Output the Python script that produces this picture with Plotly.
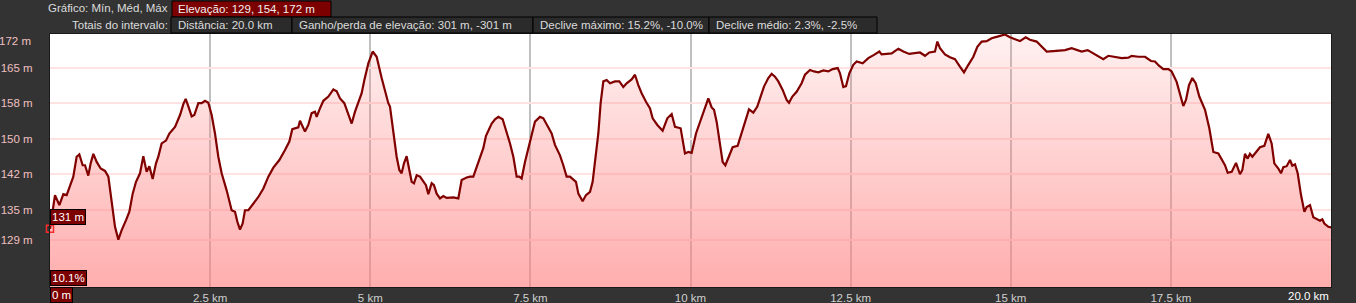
import plotly.graph_objects as go

# ---------------- data ----------------
distance_km = [
    0.000, 0.078, 0.146, 0.208, 0.260, 0.312, 0.364, 0.416, 0.458, 0.510,
    0.546, 0.598, 0.635, 0.677, 0.729, 0.791, 0.859, 0.911, 0.963, 1.015,
    1.067, 1.119, 1.187, 1.239, 1.291, 1.343, 1.405, 1.457, 1.509, 1.551,
    1.603, 1.655, 1.691, 1.743, 1.811, 1.863, 1.952, 2.030, 2.082, 2.118,
    2.160, 2.212, 2.253, 2.316, 2.368, 2.420, 2.472, 2.524, 2.576, 2.628,
    2.680, 2.758, 2.836, 2.888, 2.925, 2.966, 3.008, 3.044, 3.097, 3.175,
    3.253, 3.331, 3.409, 3.487, 3.581, 3.669, 3.737, 3.783, 3.877, 3.903,
    3.981, 4.033, 4.085, 4.137, 4.163, 4.215, 4.268, 4.346, 4.424, 4.476,
    4.528, 4.595, 4.647, 4.710, 4.762, 4.814, 4.866, 4.908, 4.970, 5.038,
    5.100,
    5.178, 5.230, 5.282, 5.308, 5.360, 5.412, 5.454, 5.490, 5.527, 5.568,
    5.610, 5.647, 5.683, 5.725, 5.777, 5.829, 5.870, 5.907, 5.959, 5.995,
    6.037, 6.089, 6.141, 6.193, 6.297, 6.375, 6.427, 6.505, 6.557, 6.609,
    6.661, 6.713, 6.765, 6.807, 6.869, 6.896, 6.948, 7.000, 7.067, 7.130,
    7.182, 7.234, 7.286, 7.328, 7.364, 7.416, 7.468, 7.520, 7.572, 7.650,
    7.702, 7.754, 7.832, 7.884, 7.962, 8.014, 8.066, 8.118, 8.212, 8.249,
    8.316, 8.368, 8.431, 8.472, 8.509, 8.561, 8.597, 8.639, 8.691, 8.743,
    8.821, 8.889, 8.951, 9.003, 9.081, 9.133, 9.185, 9.237, 9.305, 9.368,
    9.409, 9.482, 9.565, 9.638, 9.706, 9.758, 9.846, 9.914, 9.966, 10.018,
    10.086, 10.148,
    10.174, 10.226, 10.278, 10.330, 10.367, 10.408, 10.460, 10.502, 10.544, 10.590,
    10.658, 10.736, 10.799, 10.851, 10.913, 10.981, 11.043, 11.095, 11.147, 11.215,
    11.267, 11.319, 11.371, 11.439, 11.501, 11.538, 11.590, 11.657, 11.735, 11.787,
    11.866, 11.928, 11.996, 12.074, 12.152, 12.219, 12.298, 12.334, 12.386, 12.428,
    12.480, 12.542, 12.594, 12.688, 12.776, 12.865, 12.948, 12.984, 13.063, 13.141,
    13.245, 13.323, 13.416, 13.505, 13.583, 13.661, 13.729, 13.817, 13.854, 13.895,
    13.973, 14.051, 14.129, 14.207, 14.270, 14.338, 14.416, 14.478, 14.546, 14.624,
    14.702, 14.806, 14.910,
    14.988, 15.066, 15.144, 15.233, 15.300, 15.404, 15.482, 15.561, 15.665, 15.743,
    15.847, 15.951, 16.029, 16.107, 16.201, 16.289, 16.367, 16.445, 16.523, 16.627,
    16.732, 16.836, 16.888, 16.992, 17.096, 17.190, 17.252, 17.314, 17.382, 17.460,
    17.512, 17.590, 17.642, 17.694, 17.736, 17.783, 17.835, 17.887, 17.944, 18.033,
    18.100, 18.163, 18.241, 18.293, 18.345, 18.387, 18.449, 18.517, 18.579, 18.616,
    18.657, 18.699, 18.735, 18.772, 18.839, 18.891, 18.959, 19.021, 19.073, 19.115,
    19.178, 19.219, 19.256, 19.308, 19.360, 19.396, 19.438, 19.480, 19.532, 19.584,
    19.620, 19.672, 19.724, 19.776, 19.828, 19.864, 19.896, 19.958, 20.000,
]

elevation_m = [
    131.0, 138.1, 136.0, 138.3, 138.1, 139.9, 142.0, 146.2, 146.7, 144.4,
    144.4, 142.2, 144.8, 146.8, 145.1, 143.7, 143.2, 142.0, 137.0, 131.4,
    128.7, 130.7, 132.8, 134.6, 138.4, 140.9, 142.7, 146.3, 143.0, 144.2,
    141.5, 144.8, 146.2, 149.0, 149.6, 151.1, 152.5, 155.0, 157.3, 158.4,
    156.8, 154.7, 155.0, 157.5, 157.5, 158.0, 157.6, 155.0, 151.1, 146.2,
    142.7, 139.1, 134.9, 134.6, 132.5, 130.8, 132.1, 134.9, 134.9, 136.3,
    137.7, 139.5, 142.0, 143.9, 145.5, 147.6, 149.4, 152.0, 152.4, 153.8,
    151.5, 152.9, 155.4, 155.7, 154.6, 156.4, 158.0, 158.9, 160.4, 160.0,
    158.5, 157.5, 155.4, 153.2, 155.7, 157.5, 159.6, 162.4, 165.9, 168.4,
    167.3,
    162.8, 159.9, 157.5, 156.8, 151.8, 146.2, 143.4, 142.7, 144.8, 146.3,
    143.4, 140.9, 140.6, 142.3, 142.0, 140.9, 140.2, 138.3, 140.6, 140.2,
    138.4, 137.4, 137.9, 137.5, 137.6, 137.4, 141.3, 141.8, 142.0, 142.0,
    144.1, 146.2, 148.0, 150.6, 152.2, 153.2, 154.1, 154.6, 154.1, 151.5,
    149.0, 146.2, 142.0, 142.0, 141.6, 145.1, 148.3, 150.8, 153.6, 154.6,
    154.3, 152.9, 151.1, 148.7, 146.5, 144.4, 142.0, 142.0, 140.9, 138.4,
    136.8, 138.1, 138.8, 140.9, 144.8, 151.1, 157.5, 162.1, 162.4, 161.7,
    162.1, 162.1, 160.9, 161.7, 162.5, 163.5, 161.3, 159.6, 157.8, 156.4,
    154.3, 152.9, 151.7, 154.3, 155.2, 152.5, 152.2, 146.9, 147.2, 147.0,
    151.1, 153.6,
    154.6, 156.4, 158.5, 156.6, 156.1, 153.6, 148.3, 145.1, 144.4, 145.8,
    148.2, 148.5, 151.1, 153.6, 156.2, 155.5, 156.8, 158.9, 161.0, 162.8,
    163.7, 163.1, 162.1, 160.3, 158.2, 157.6, 158.9, 159.9, 161.7, 163.5,
    164.5, 164.2, 164.0, 164.4, 164.2, 164.7, 164.9, 163.8, 160.9, 161.1,
    163.8, 165.6, 166.3, 165.9, 167.0, 167.7, 168.4, 167.8, 167.9, 168.0,
    169.0, 168.4, 167.9, 168.0, 168.2, 167.5, 168.2, 168.4, 170.5, 169.1,
    167.8, 167.2, 166.8, 165.2, 164.0, 165.6, 167.3, 169.4, 170.5, 170.6,
    171.2, 171.6, 172.0,
    171.4, 171.0, 170.6, 171.4, 170.9, 170.5, 169.4, 168.4, 168.5, 168.6,
    168.7, 169.1, 168.7, 168.4, 168.7, 168.0, 167.5, 166.8, 167.5, 167.2,
    167.0, 167.1, 167.5, 167.3, 167.3, 166.4, 166.3, 165.4, 164.7, 164.7,
    164.2, 162.0, 159.2, 156.9, 158.2, 161.3, 162.8, 161.7, 158.9, 156.1,
    152.2, 147.2, 146.9, 145.5, 144.4, 142.8, 143.0, 144.9, 142.5, 143.4,
    146.8, 145.8, 146.8, 146.2, 147.3, 148.2, 148.5, 151.0, 149.0, 144.8,
    143.7, 142.7, 144.0, 144.2, 145.5, 144.3, 144.6, 142.7, 138.1, 134.6,
    135.6, 136.0, 133.4, 133.0, 132.7, 133.0, 132.1, 131.4, 131.3,
]
assert len(distance_km) == len(elevation_m)

y_tick_vals = [165, 157.5, 150, 142.5, 135, 128.7]
y_tick_text = ["165 m", "158 m", "150 m", "142 m", "135 m", "129 m"]
x_tick_vals = [2.5, 5, 7.5, 10, 12.5, 15, 17.5]
x_tick_text = ["2.5 km", "5 km", "7.5 km", "10 km", "12.5 km", "15 km", "17.5 km"]
y_max_label = "172 m"
x_end_label = "20.0 km"

header_row1_label = "Gráfico: Mín, Méd, Máx"
header_row1_box = "Elevação: 129, 154, 172 m"
header_row2_label = "Totais do intervalo:"
header_row2_boxes = [
    "Distância: 20.0 km",
    "Ganho/perda de elevação: 301 m, -301 m",
    "Declive máximo: 15.2%, -10.0%",
    "Declive médio: 2.3%, -2.5%",
]
cursor_elev_label = "131 m"
cursor_slope_label = "10.1%"
cursor_dist_label = "0 m"

# ---------------- layout geometry (pixels) ----------------
W, H = 1356, 303
PL, PR, PT, PB = 50, 1331, 34, 287
Y_RANGE = [118.7, 172.1]
X_RANGE = [0, 20.0]


def px(x):
    return (x - PL) / (PR - PL)


def py(y):
    return (PB - y) / (PB - PT)


FONT = "Liberation Sans, Arial, sans-serif"
TXT = "#dcdcdc"
DARKRED = "#7d0000"

fig = go.Figure()
fig.add_trace(go.Scatter(
    x=distance_km, y=elevation_m, mode="lines",
    line=dict(color="#800000", width=2.2),
    fill="tozeroy",
    fillgradient=dict(type="vertical", start=Y_RANGE[0], stop=Y_RANGE[1],
                      colorscale=[[0, "rgba(255,128,128,0.64)"],
                                  [1, "rgba(255,128,128,0.11)"]]),
    hoverinfo="skip", showlegend=False,
))
fig.add_trace(go.Scatter(
    x=[distance_km[0]], y=[elevation_m[0]], mode="markers",
    marker=dict(symbol="square-open", size=7, color="#ff2a2a", line=dict(width=1.5)),
    cliponaxis=False, hoverinfo="skip", showlegend=False,
))

shapes = []
annotations = []


def box(x0, x1, y0, y1, fill):
    shapes.append(dict(type="rect", xref="paper", yref="paper",
                       x0=px(x0), x1=px(x1), y0=py(y1), y1=py(y0),
                       fillcolor=fill, line=dict(color="#000000", width=1), layer="above"))


def text(x, y, s, anchor="left", color=TXT, size=11.5):
    annotations.append(dict(xref="paper", yref="paper", x=px(x), y=py(y), text=s,
                            showarrow=False, xanchor=anchor, yanchor="middle",
                            font=dict(family=FONT, size=size, color=color)))


# header
text(170, 8.5, header_row1_label, anchor="right")
box(172, 331, 1, 17, DARKRED)
text(176, 9, header_row1_box, color="#f0f0f0")
text(170, 25.5, header_row2_label, anchor="right")
row2_edges = [171, 292, 533, 709, 877]
for i, s in enumerate(header_row2_boxes):
    box(row2_edges[i], row2_edges[i + 1], 17, 33, "#2b2b2b")
    text(row2_edges[i] + 5, 25.5, s)

# top y label and right x label
annotations.append(dict(xref="paper", yref="y", x=px(33), y=Y_RANGE[1], text=y_max_label,
                        showarrow=False, xanchor="right", yanchor="top", yshift=1,
                        font=dict(family=FONT, size=11.5, color="#f0c0c0")))
annotations.append(dict(xref="paper", yref="paper", x=1, y=0, text=x_end_label,
                        showarrow=False, xanchor="right", yanchor="top", yshift=-1,
                        font=dict(family=FONT, size=11.5, color="#ffffff")))

# cursor labels
ann_box = dict(showarrow=False, bgcolor=DARKRED, bordercolor="#000000", borderwidth=1,
               borderpad=1, font=dict(family=FONT, size=11.5, color="#ffffff"))
annotations.append(dict(xref="x", yref="y", x=distance_km[0], y=elevation_m[0],
                        text=cursor_elev_label, xanchor="left", yanchor="bottom",
                        yshift=4, **ann_box))
annotations.append(dict(xref="x", yref="paper", x=distance_km[0], y=0,
                        text=cursor_slope_label, xanchor="left", yanchor="bottom",
                        yshift=1, **ann_box))
annotations.append(dict(xref="x", yref="paper", x=distance_km[0], y=0,
                        text=cursor_dist_label, xanchor="left", yanchor="top",
                        yshift=0, **ann_box))

fig.update_layout(
    width=W, height=H,
    margin=dict(l=PL, r=W - PR, t=PT, b=H - PB, autoexpand=False),
    paper_bgcolor="#333333", plot_bgcolor="#ffffff",
    shapes=shapes, annotations=annotations,
    xaxis=dict(range=X_RANGE, showgrid=True, gridcolor="#c0c0c0", gridwidth=2,
               zeroline=False, automargin=False,
               tickvals=x_tick_vals, ticktext=x_tick_text,
               tickfont=dict(family=FONT, size=11.5, color="#cfcfcf"),
               showline=True, linecolor="#1a1a1a", linewidth=1, mirror=True,
               ticks="", fixedrange=True),
    yaxis=dict(range=Y_RANGE, showgrid=True, gridcolor="#ffe2e2", gridwidth=2,
               zeroline=False, automargin=False,
               tickvals=y_tick_vals, ticktext=y_tick_text,
               tickfont=dict(family=FONT, size=11.5, color="#f0c0c0"),
               showline=True, linecolor="#1a1a1a", linewidth=1, mirror=True,
               ticks="", ticklabelstandoff=14, fixedrange=True),
)

fig.write_html("out.html")
